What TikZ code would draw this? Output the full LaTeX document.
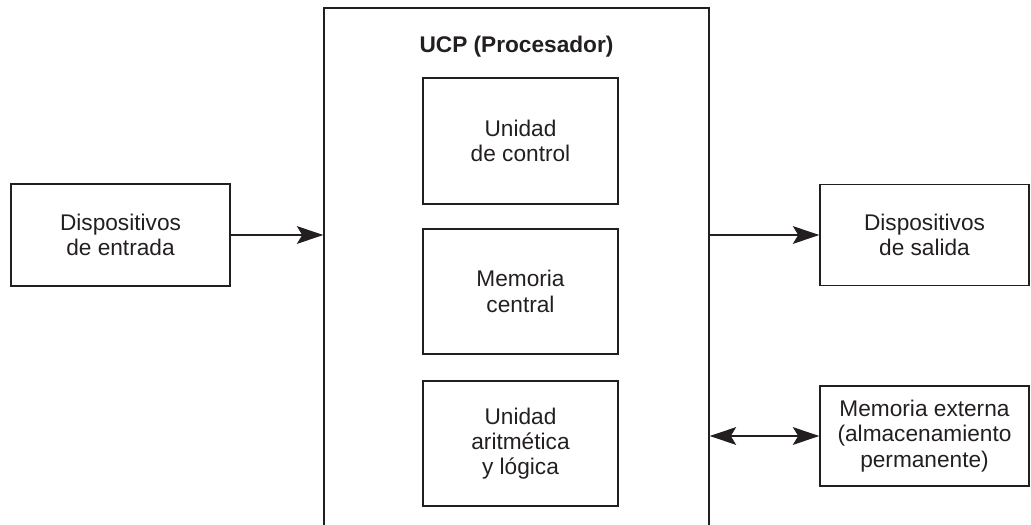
\documentclass[tikz,border=0pt]{standalone}
\usepackage{fontspec}
\setmainfont{Liberation Sans}
\usetikzlibrary{arrows.meta}
\definecolor{tinta}{HTML}{231F20}
\tikzset{
	caja/.style={draw=tinta, line width=0.8pt, align=center, text=tinta, inner sep=0pt},
	flecha/.style={draw=tinta, line width=1.5pt, -{Stealth[length=15pt,width=10pt,inset=3pt]}},
	dflecha/.style={draw=tinta, line width=1.5pt, {Stealth[length=15pt,width=10pt,inset=3pt]}-{Stealth[length=15pt,width=10pt,inset=3pt]}}
}
\begin{document}
\begin{tikzpicture}[x=0.02cm, y=-0.02cm, font=\fontsize{12.9}{14.4}\selectfont, line join=miter]
	\useasboundingbox (0,0) rectangle (1031,524);
	\clip (0,0) rectangle (1031,524);
	\def\wi{3.9cm} \def\hi{2.5cm} % cajas internas
	% procesador (abierto por abajo)
	\node[caja, minimum width=7.7cm, minimum height=10.64cm] (ucp) at (516.5,274) {};
	\node[text=tinta, font=\fontsize{12.9}{14.4}\selectfont\bfseries] (tit) at (516.5,47) {UCP (Procesador)};
	\node[caja, minimum width=\wi, minimum height=2.52cm] (uc) at (520.5,141) {Unidad\\de control};
	\node[caja, minimum width=\wi, minimum height=\hi] (mc) at (520.5,291.5) {Memoria\\central};
	\node[caja, minimum width=\wi, minimum height=\hi] (ual) at (520.5,443.5) {Unidad\\aritmética\\y lógica};
	% periféricos
	\node[caja, minimum width=4.38cm, minimum height=2.04cm] (ent) at (120.5,235) {Dispositivos\\de entrada};
	\node[caja, minimum width=4.18cm, minimum height=2.02cm] (sal) at (924.5,235) {Dispositivos\\de salida};
	\node[caja, minimum width=4.18cm, minimum height=2cm] (mext) at (924.5,436) {Memoria externa\\(almacenamiento\\permanente)};
	% conexiones
	\draw[flecha] (ent.east) -- (ent.east -| ucp.west);
	\draw[flecha] (sal.west -| ucp.east) -- (sal.west);
	\draw[dflecha] (mext.west -| ucp.east) -- (mext.west);
\end{tikzpicture}
\end{document}
